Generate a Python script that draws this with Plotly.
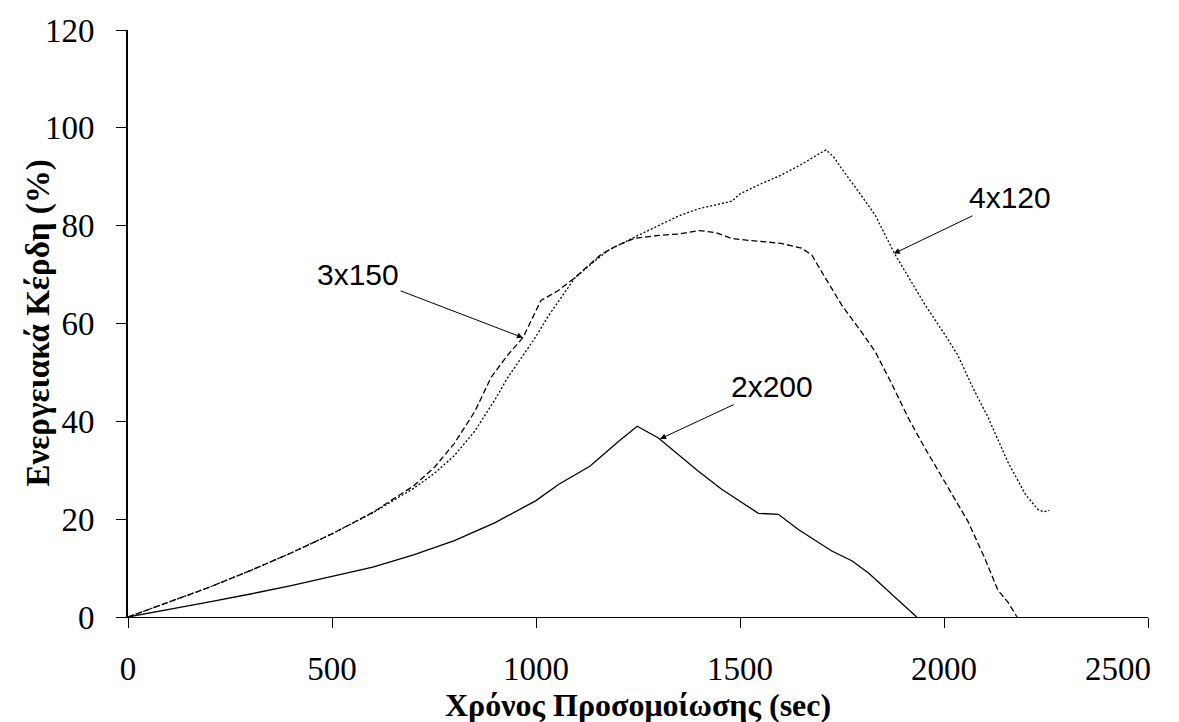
import plotly.graph_objects as go

# 2x200 (solid)
x_2x200 = [0, 100, 200, 300, 400, 500, 600, 700, 800, 900, 1000, 1055, 1132, 1202, 1248,
           1300, 1398, 1455, 1525, 1545, 1594, 1643, 1725, 1774, 1815, 1872, 1933]
y_2x200 = [0, 1.5, 3.1, 4.7, 6.4, 8.3, 10.2, 12.7, 15.6, 19.3, 23.8, 27.1, 30.8, 35.9, 39.0,
           36.6, 29.8, 26.1, 22.2, 21.2, 21.0, 17.9, 13.5, 11.5, 9.0, 4.7, 0]

# 3x150 (dashed)
x_3x150 = [0, 100, 200, 300, 400, 500, 600, 700, 750, 800, 850, 890, 930, 968, 990, 1012,
           1054, 1096, 1159, 1200, 1242, 1300, 1350, 1400, 1440, 1479, 1520, 1553, 1600,
           1651, 1676, 1700, 1749, 1800, 1831, 1870, 1913, 1950, 2000, 2059, 2100, 2132,
           2157, 2179]
y_3x150 = [0, 3, 6.1, 9.5, 13.1, 17, 21.4, 26.8, 30.5, 35.5, 42, 49, 53.5, 57.1, 61, 64.7,
           66.7, 69.4, 74.1, 76, 77.4, 78, 78.3, 79, 78.6, 77.4, 77, 76.7, 76.4,
           75.4, 74, 70.6, 63.8, 58, 54.3, 48, 40.6, 35, 28, 19.5, 12, 5.5, 3, 0]

# 4x120 (dotted)
x_4x120 = [0, 100, 200, 300, 400, 500, 600, 700, 750, 800, 850, 900, 931, 960, 998, 1030,
           1061, 1096, 1140, 1176, 1250, 1300, 1350, 1400, 1450, 1480, 1500, 1550, 1600,
           1650, 1690, 1711, 1730, 1748, 1790, 1831, 1880, 1953, 2000, 2034, 2070, 2108,
           2157, 2200, 2230, 2245, 2258]
y_4x120 = [0, 3, 6.1, 9.5, 13.1, 17, 21.3, 26.3, 29.3, 33, 38, 44.5, 49, 52.5, 57.1, 61.5,
           65.3, 69.4, 72.5, 74.9, 78, 80, 82, 83.5, 84.5, 85, 86.5, 88.5, 90.3,
           92.5, 94.5, 95.5, 94, 91.8, 87, 82.2, 74.1, 63.9, 58, 53.5, 47, 40.8,
           31.6, 25, 22, 21.5, 21.8]

labels = ["2x200", "3x150", "4x120"]
label_pos = [(1579, 47.1), (564, 70.0), (2162, 85.7)]
arrow_tip = [(1304, 36.4), (968, 57.1), (1877, 74.3)]

x_ticks = [0, 500, 1000, 1500, 2000, 2500]
x_ticktext = ["0", "500", "1000", "1500", "2000", "2500"]
y_ticks = [0, 20, 40, 60, 80, 100, 120]

x_title = "Χρόνος Προσομοίωσης (sec)"
y_title = "Ενεργειακά Κέρδη (%)"

fig = go.Figure()
line_w = 1.3
fig.add_trace(go.Scatter(x=x_2x200, y=y_2x200, mode="lines", name=labels[0],
                         line=dict(color="black", width=line_w)))
fig.add_trace(go.Scatter(x=x_3x150, y=y_3x150, mode="lines", name=labels[1],
                         line=dict(color="black", width=line_w, dash="6px,3px")))
fig.add_trace(go.Scatter(x=x_4x120, y=y_4x120, mode="lines", name=labels[2],
                         line=dict(color="black", width=line_w, dash="2px,2px")))
# invisible anchor trace for the overlay axis that carries the last (shifted) tick label
fig.add_trace(go.Scatter(x=[x_ticks[-1]], y=[0], xaxis="x2", mode="markers",
                         marker=dict(opacity=0), hoverinfo="skip", showlegend=False))

for lab, (lx, ly), (tx, ty) in zip(labels, label_pos, arrow_tip):
    fig.add_annotation(x=tx, y=ty, ax=lx, ay=ly, axref="x", ayref="y", xref="x", yref="y",
                       text=lab, showarrow=True, arrowhead=2, arrowsize=1.2, arrowwidth=1,
                       arrowcolor="black",
                       font=dict(family="Liberation Sans, Arial", size=30, color="black"))

serif = "Liberation Serif, Times New Roman, serif"

# axis titles as annotations for exact placement
fig.add_annotation(xref="paper", yref="paper", x=0.5, y=-0.150, text="<b>" + x_title + "</b>",
                   showarrow=False, xanchor="center", yanchor="middle",
                   font=dict(family=serif, size=32, color="black"))
fig.add_annotation(xref="paper", yref="paper", x=-0.0882, y=0.5, text="<b>" + y_title + "</b>",
                   showarrow=False, xanchor="center", yanchor="middle", textangle=-90,
                   font=dict(family=serif, size=33, color="black"))

fig.update_layout(
    width=1179, height=722,
    margin=dict(l=120, r=39, t=22, b=113),
    paper_bgcolor="white", plot_bgcolor="white",
    showlegend=False,
    font=dict(family=serif, color="black"),
)
fig.update_xaxes(range=[0, 2500], tickvals=x_ticks, ticktext=x_ticktext[:-1] + [""],
                 ticks="outside", ticklen=10,
                 tickcolor="black", showline=True, linecolor="black", linewidth=1.2,
                 showgrid=False, zeroline=False, tickfont=dict(family=serif, size=33),
                 ticklabelstandoff=12, automargin=False)
fig.update_layout(xaxis2=dict(overlaying="x", anchor="y", side="bottom", range=[0, 2500],
                              tickvals=[x_ticks[-1]], ticktext=[x_ticktext[-1]],
                              ticks="outside", ticklen=10, tickcolor="rgba(0,0,0,0)",
                              showline=False, showgrid=False, zeroline=False,
                              tickfont=dict(family=serif, size=33),
                              ticklabelstandoff=12, ticklabelshift=-30, automargin=False))
fig.update_yaxes(range=[0, 120], tickvals=y_ticks, ticks="outside", ticklen=10,
                 tickcolor="black", showline=True, linecolor="black", linewidth=2,
                 showgrid=False, zeroline=False, tickfont=dict(family=serif, size=33),
                 ticklabelstandoff=15, automargin=False)

fig.write_html("out.html")
